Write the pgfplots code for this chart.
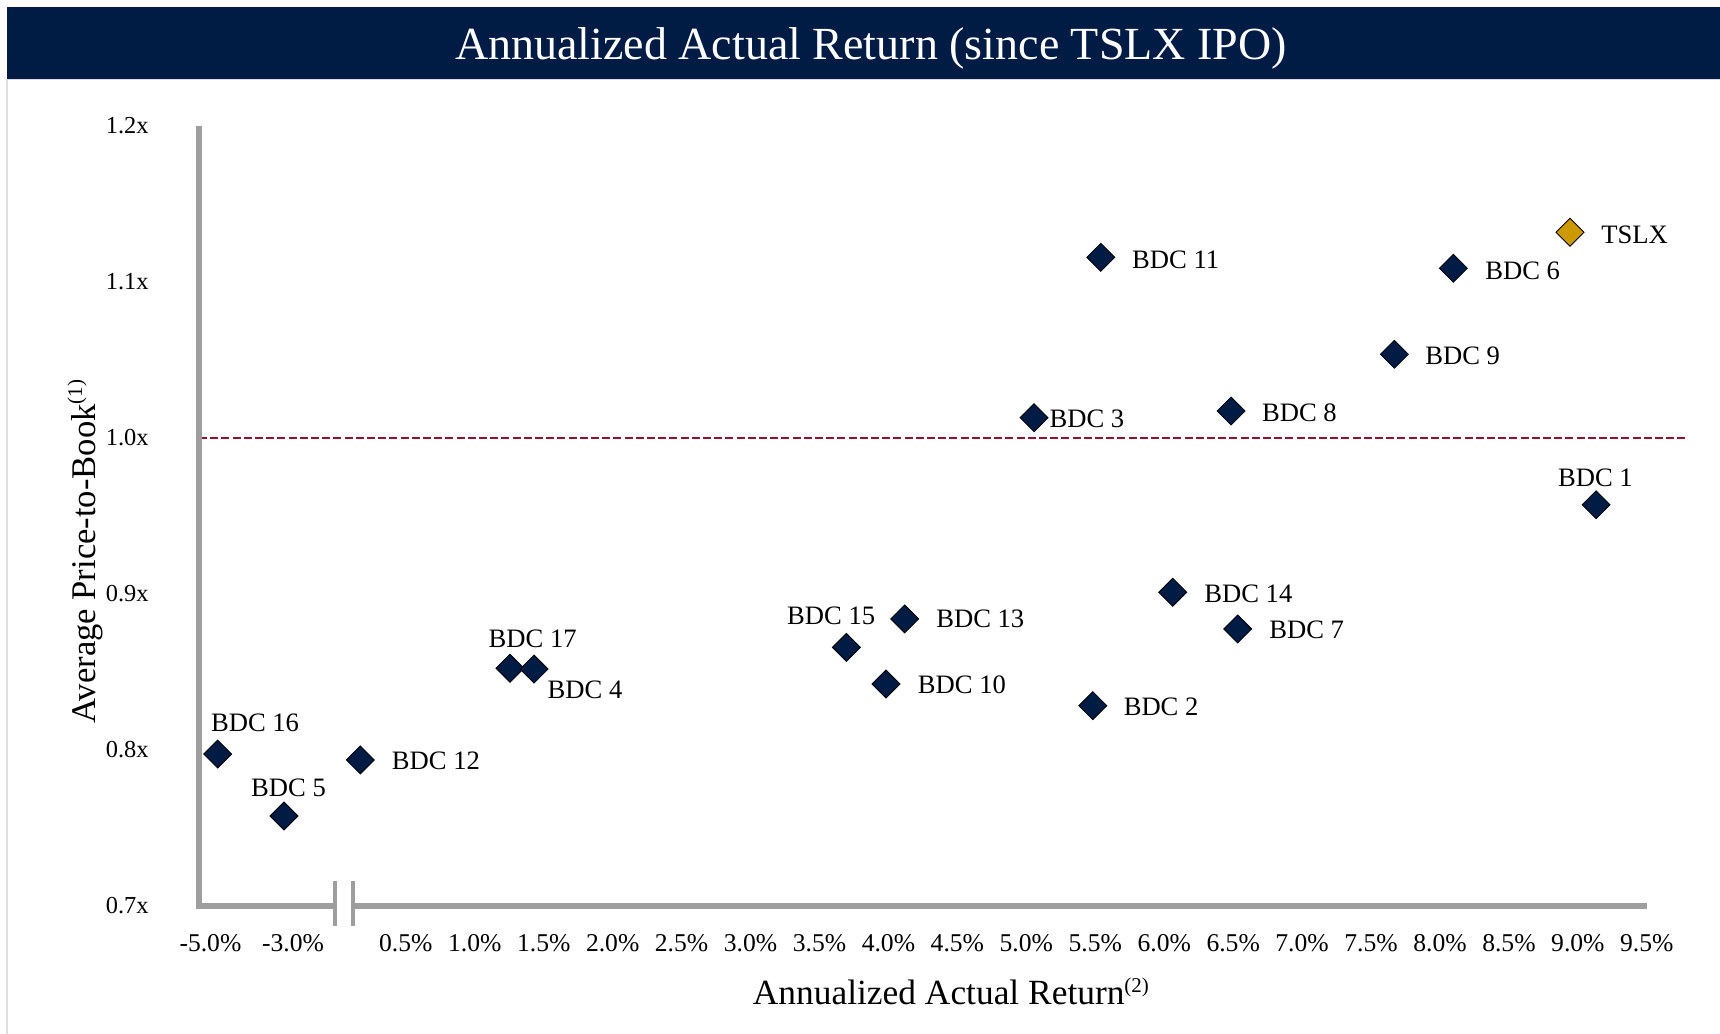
\documentclass[border=0pt]{standalone}
\usepackage{fontspec}
\setmainfont{Liberation Serif}
\usepackage{pgfplots}
\pgfplotsset{compat=1.18}
\usepackage{pgfplotstable}
\definecolor{navy}{RGB}{0,27,68}
\definecolor{gold}{RGB}{204,153,0}
\definecolor{dred}{RGB}{140,20,45}
\definecolor{axgray}{RGB}{158,158,158}
\definecolor{frame}{RGB}{220,220,230}

% x = position on the (broken) return axis, y = average price-to-book
\pgfplotstableread[col sep=comma]{
x,y,label,dx,dy
8.097,1.1088,BDC 6,15.8,-5.5
7.669,1.0537,BDC 9,15.3,-5.3
5.540,1.1158,BDC 11,15.5,-5.5
5.056,1.0130,BDC 3,7.6,-5.0
6.485,1.0173,BDC 8,15.3,-5.0
9.132,0.9572,BDC 1,-19.2,9.0
6.062,0.9011,BDC 14,15.6,-5.2
6.533,0.8776,BDC 7,15.6,-5.0
4.118,0.8840,BDC 13,15.6,-4.4
3.695,0.8658,BDC 15,-29.8,11.5
3.982,0.8423,BDC 10,15.8,-4.7
5.482,0.8284,BDC 2,15.3,-5.0
1.255,0.8524,BDC 17,-10.8,10.5
1.430,0.8519,BDC 4,6.6,-14.6
0.170,0.7936,BDC 12,15.6,-5.0
-0.8645,0.7974,BDC 16,-3.5,11.1
-0.3837,0.7577,BDC 5,-16.6,9.6
}\bdc

\pgfplotstableread[col sep=comma]{
x,y,label,dx,dy
8.943,1.1319,TSLX,15.5,-5.5
}\tslx

\begin{document}
\begin{tikzpicture}
\path[use as bounding box, fill=white] (0,0) rectangle (860pt,517pt);
\fill[navy] (3.5pt,477.5pt) rectangle (860pt,513.5pt);
\draw[frame, line width=0.6pt] (3.5pt,0pt) -- (3.5pt,477.2pt) -- (860pt,477.2pt);
\node[text=white, font=\fontsize{23}{26}\selectfont, anchor=base, inner sep=0pt] at (435.5pt,487pt) {Annualized Actual Return (since TSLX IPO)};
\node[font=\fontsize{17.7}{20}\selectfont, anchor=base west, inner sep=0pt] at (376.25pt,14.5pt) {Annualized Actual Return{\fontsize{10.5}{12}\selectfont\raisebox{6.5pt}{(2)}}};
\node[font=\fontsize{17.3}{20}\selectfont, anchor=base west, inner sep=0pt, rotate=90] at (47.5pt,155pt) {Average Price-to-Book{\fontsize{10.5}{12}\selectfont\raisebox{6.5pt}{(1)}}};

\begin{axis}[
  at={(99.5pt,64pt)}, anchor=south west,
  scale only axis, width=743pt, height=390pt,
  xmin=-1.0, xmax=9.777, ymin=0.7, ymax=1.2,
  axis x line*=bottom, axis y line*=left,
  axis line style={draw=none},
  major tick length=0pt,
  clip=false,
  xtick={-0.917,-0.318,0.5,1.0,1.5,2.0,2.5,3.0,3.5,4.0,4.5,5.0,5.5,6.0,6.5,7.0,7.5,8.0,8.5,9.0,9.5},
  xticklabels={-5.0\%,-3.0\%,0.5\%,1.0\%,1.5\%,2.0\%,2.5\%,3.0\%,3.5\%,4.0\%,4.5\%,5.0\%,5.5\%,6.0\%,6.5\%,7.0\%,7.5\%,8.0\%,8.5\%,9.0\%,9.5\%},
  ytick={0.7,0.8,0.9,1.0,1.1,1.2},
  yticklabels={0.7x,0.8x,0.9x,1.0x,1.1x,1.2x},
  xticklabel style={inner sep=0pt, anchor=base, yshift=-23pt, font=\fontsize{12.8}{14}\selectfont},
  yticklabel style={inner sep=0pt, anchor=east, xshift=-25pt, font=\fontsize{12.2}{14}\selectfont},
]
\addplot[draw=dred, line width=1.3pt, dash pattern=on 4pt off 1.6pt, forget plot] coordinates {(-1,1) (9.777,1)};
\draw[axgray, line width=3pt] (axis cs:-1,1.2) -- (axis cs:-1,0.7) -- (axis cs:-0.0116,0.7);
\draw[axgray, line width=3pt] (axis cs:0.1146,0.7) -- (axis cs:9.5,0.7);
\draw[axgray, line width=2pt] (axis cs:-0.0116,0.71603) -- (axis cs:-0.0116,0.68718);
\draw[axgray, line width=2pt] (axis cs:0.1146,0.71603) -- (axis cs:0.1146,0.68718);

\addplot[only marks, mark=square*, mark size=4.95pt,
  mark options={rotate=45, fill=navy, draw=none},
  point meta=explicit symbolic,
  visualization depends on={\thisrow{dx} \as \dx},
  visualization depends on={\thisrow{dy} \as \dy},
  nodes near coords,
  nodes near coords style={anchor=base west, inner sep=0pt, xshift=\dx pt, yshift=\dy pt, text=black, font=\fontsize{13.3}{15}\selectfont},
] table[x=x, y=y, meta=label] {\bdc};

\addplot[only marks, mark=square*, mark size=4.95pt,
  mark options={rotate=45, fill=gold, draw=none},
  point meta=explicit symbolic,
  visualization depends on={\thisrow{dx} \as \dx},
  visualization depends on={\thisrow{dy} \as \dy},
  nodes near coords,
  nodes near coords style={anchor=base west, inner sep=0pt, xshift=\dx pt, yshift=\dy pt, text=black, font=\fontsize{13.3}{15}\selectfont},
] table[x=x, y=y, meta=label] {\tslx};
\end{axis}
\end{tikzpicture}
\end{document}
